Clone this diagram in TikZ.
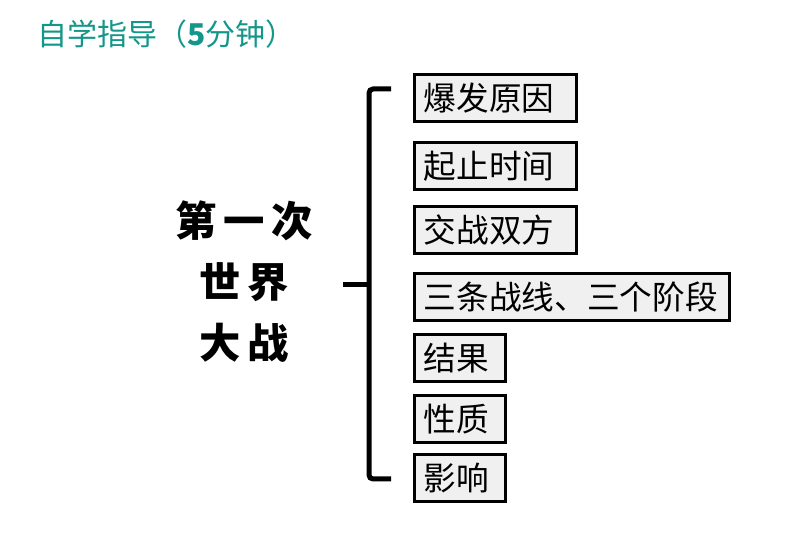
\documentclass[tikz,border=0pt]{standalone}
\usepackage{fontspec}
\setmainfont{Noto Sans CJK SC}
\definecolor{teal1}{RGB}{20, 150, 138}
\definecolor{gray1}{RGB}{240, 240, 240}
\usetikzlibrary{positioning, shadows}

\begin{document}
\begin{tikzpicture}[x=0.75pt, y=-0.75pt,
  itembox/.style={draw=black, line width=2.2pt, fill=gray1, anchor=north west,
    minimum height=35.5pt, inner xsep=7pt, text width=#1, align=left,
    font=\fontsize{24.5pt}{28pt}\selectfont,
    drop shadow={opacity=0.25, shadow xshift=1pt, shadow yshift=-1pt}},
  bracket/.style={line width=3.75pt}]
  \fill[white] (0,0) rectangle (794,556);
  \useasboundingbox (0,0) rectangle (794,556);

  % title
  \node[anchor=west, text=teal1, font=\fontsize{22.5pt}{25pt}\selectfont] (title) at (33,34) {自学指导（\textbf{5}分钟）};

  % topic
  \node[align=center, font=\fontsize{31pt}{45.75pt}\selectfont\bfseries] (topic) at (244,282) {第\,一\,次\\世\,界\\大\,战};

  % items
  \node[itembox=107.5pt] (cause) at (413,73) {爆发原因};
  \node[itembox=107.5pt] (time) at (413,141) {起止时间};
  \node[itembox=107.5pt] (sides) at (413,205) {交战双方};
  \node[itembox=222.3pt] (fronts) at (413,272) {三条战线、三个阶段};
  \node[itembox=54.3pt] (result) at (413,333) {结果};
  \node[itembox=54.3pt] (nature) at (413,394) {性质};
  \node[itembox=54.3pt] (impact) at (413,453) {影响};

  % brace
  \coordinate (armtop) at (391,89);
  \coordinate (armbot) at (391,479);
  \coordinate (tip) at (343,285);
  \draw[bracket, rounded corners=3pt] (armtop) -- (369,89) -- (369,479) -- (armbot);
  \draw[bracket] (tip) -- (369,285);
\end{tikzpicture}
\end{document}
